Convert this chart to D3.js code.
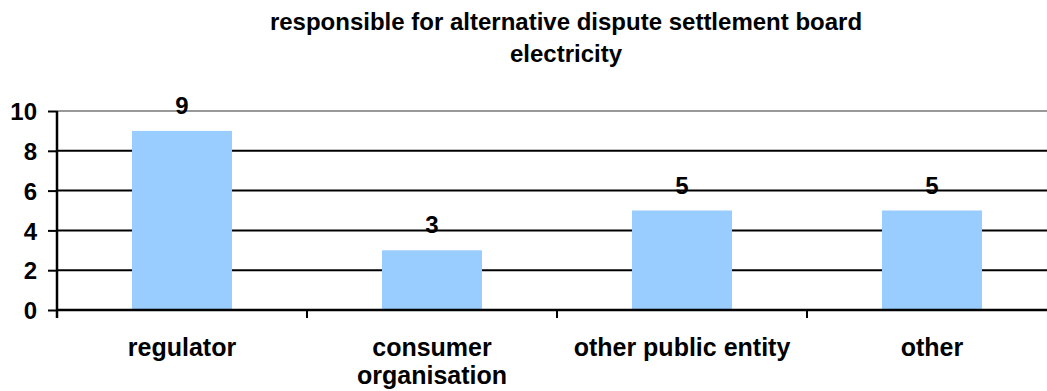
<!DOCTYPE html>
<html>
<head>
<meta charset="utf-8">
<script src="https://cdn.jsdelivr.net/npm/d3@7"></script>
<style>
  body { margin: 0; background: #fff; }
  text { font-family: "Liberation Sans", Arial, sans-serif; font-weight: bold; fill: #000; }
</style>
</head>
<body>
<div id="chart"></div>
<script>
// chart data
const categories = ['regulator', 'consumer organisation', 'other public entity', 'other'];
const labelLines = [['regulator'], ['consumer', 'organisation'], ['other public entity'], ['other']];
const values = [9, 3, 5, 5];
const yTicks = [0, 2, 4, 6, 8, 10];
const titleLines = ['responsible for alternative dispute settlement board', 'electricity'];

// sizes
const W = 1047, H = 391;
const plot = { left: 57, right: 1057, top: 111, bottom: 310 };

const svg = d3.select('#chart')
    .append('svg')
    .attr('width', W)
    .attr('height', H);

// scales
const x = d3.scaleBand()
    .domain(categories)
    .range([plot.left, plot.right])
    .paddingInner(0.6)
    .paddingOuter(0.3);

const y = d3.scaleLinear()
    .domain([0, 10])
    .range([plot.bottom, plot.top]);

// gridlines
svg.append('g')
    .selectAll('line')
    .data(yTicks.filter(d => d > 0))
    .join('line')
    .attr('x1', plot.left)
    .attr('x2', plot.right)
    .attr('y1', d => y(d))
    .attr('y2', d => y(d))
    .attr('stroke', d => d === 10 ? '#999' : '#000')
    .attr('stroke-width', 2);

// bars
svg.append('g')
    .selectAll('rect')
    .data(values)
    .join('rect')
    .attr('x', (d, i) => x(categories[i]))
    .attr('y', d => y(d))
    .attr('width', x.bandwidth())
    .attr('height', d => y(0) - y(d))
    .attr('fill', '#99ccff');

// value labels
svg.append('g')
    .selectAll('text')
    .data(values)
    .join('text')
    .attr('x', (d, i) => x(categories[i]) + x.bandwidth() / 2)
    .attr('y', d => y(d) - 17)
    .attr('text-anchor', 'middle')
    .style('font-size', '24px')
    .text(d => d);

// y axis
const yAxis = svg.append('g')
    .attr('transform', 'translate(' + plot.left + ',0)')
    .call(d3.axisLeft(y).tickValues(yTicks).tickSize(9).tickPadding(11));
yAxis.select('.domain').remove();
yAxis.selectAll('line').attr('stroke', '#000').attr('stroke-width', 2);
yAxis.selectAll('text')
    .style('font-size', '24px')
    .style('font-family', '"Liberation Sans", Arial, sans-serif')
    .style('font-weight', 'bold')
    .attr('dy', '0.36em');
svg.append('line')
    .attr('x1', plot.left).attr('x2', plot.left)
    .attr('y1', plot.top).attr('y2', plot.bottom + 8)
    .attr('stroke', '#000').attr('stroke-width', 2.5);

// x axis line and category ticks
svg.append('line')
    .attr('x1', plot.left).attr('x2', plot.right)
    .attr('y1', plot.bottom).attr('y2', plot.bottom)
    .attr('stroke', '#000').attr('stroke-width', 2.5);
svg.append('g')
    .selectAll('line')
    .data(categories.slice(1))
    .join('line')
    .attr('x1', d => x(d) - x.step() * x.paddingInner() / 2)
    .attr('x2', d => x(d) - x.step() * x.paddingInner() / 2)
    .attr('y1', plot.bottom)
    .attr('y2', plot.bottom + 8)
    .attr('stroke', '#000')
    .attr('stroke-width', 2);

// category labels
const catLabels = svg.append('g')
    .selectAll('text')
    .data(categories)
    .join('text')
    .attr('x', d => x(d) + x.bandwidth() / 2)
    .attr('y', 356)
    .attr('text-anchor', 'middle')
    .style('font-size', '25px');
catLabels.selectAll('tspan')
    .data((d, i) => labelLines[i])
    .join('tspan')
    .attr('x', function () { return this.parentNode.getAttribute('x'); })
    .attr('dy', (d, i) => i === 0 ? 0 : 28)
    .text(d => d);

// title
svg.append('text')
    .attr('x', 566)
    .attr('y', 30)
    .attr('text-anchor', 'middle')
    .style('font-size', '24px')
    .selectAll('tspan')
    .data(titleLines)
    .join('tspan')
    .attr('x', 566)
    .attr('dy', (d, i) => i === 0 ? 0 : 32)
    .text(d => d);
</script>
</body>
</html>
